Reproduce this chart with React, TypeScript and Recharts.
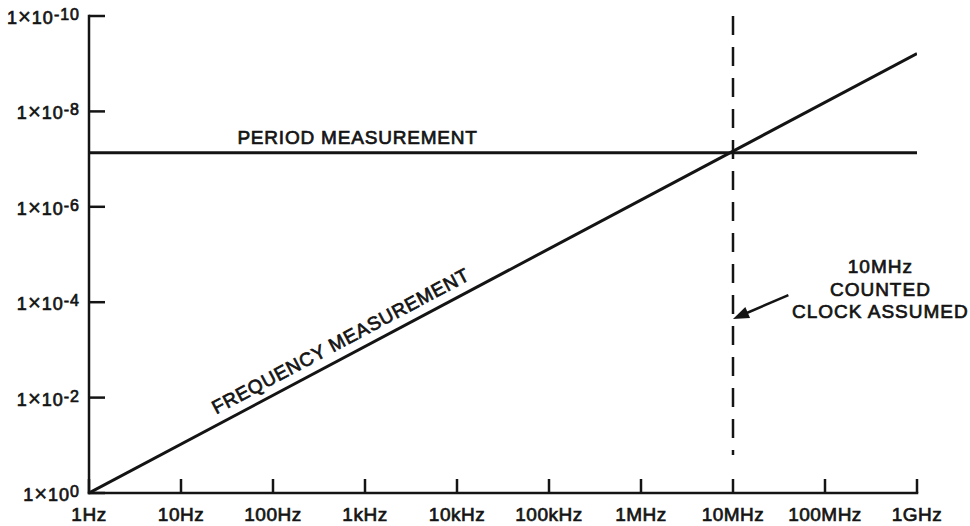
import React from 'react';
import { LineChart, Line, XAxis, YAxis, ReferenceLine, ReferenceDot } from 'recharts';

// ---- data ----
const frequencyHz = [1, 1e9];
const frequencyError = [1, 6.1e-10];
const periodError = [7.35e-8, 7.35e-8];

const xTicks = [1, 10, 100, 1e3, 1e4, 1e5, 1e6, 1e7, 1e8, 1e9];
const xTickLabels = ['1Hz', '10Hz', '100Hz', '1kHz', '10kHz', '100kHz', '1MHz', '10MHz', '100MHz', '1GHz'];
const yTicks = [1, 1e-2, 1e-4, 1e-6, 1e-8, 1e-10];
const yTickExponents = ['0', '-2', '-4', '-6', '-8', '-10'];

// annotation anchors (data coordinates)
const clockHz = 1e7;
const clockDashRange = [1e-10, 0.16];
const arrowTail = { x: 4e7, y: 7.1e-5 };
const arrowHead = { x: 1e7, y: 2.24e-4 };
const periodLabelAt = { x: 830, y: 7.35e-8 };
const freqLabelAt = { x: 660, y: 1.32e-3 };
const clockNoteAt = { x: 4e8, y: 7.4e-5 };
const clockNoteLines = ['10MHz', 'COUNTED', 'CLOCK ASSUMED'];
const periodLabel = 'PERIOD MEASUREMENT';
const freqLabel = 'FREQUENCY MEASUREMENT';

const data = frequencyHz.map((f, i) => ({ f, freq: frequencyError[i], period: periodError[i] }));

const INK = '#141414';
const FONT = '"Liberation Sans", Arial, Helvetica, sans-serif';
const textStyle = { fontFamily: FONT, fill: INK, stroke: INK, strokeWidth: 0.7 } as const;

const YTick = (props: any) => {
  const { x, y, payload } = props;
  const i = yTicks.indexOf(payload.value);
  const exp = i >= 0 ? yTickExponents[i] : String(Math.round(Math.log10(payload.value)));
  return (
    <g>
      <line x1={x} y1={y} x2={x + 16} y2={y} stroke={INK} strokeWidth={2.5} />
      <text x={x - 9} y={y + 8} textAnchor="end" fontSize={18} letterSpacing={1} {...textStyle}>
        1<tspan fontSize={22} strokeWidth={0.5}>×</tspan>10<tspan dy={-4} fontSize={16}>{exp}</tspan>
      </text>
    </g>
  );
};

const XTick = (props: any) => {
  const { x, y, payload } = props;
  const i = xTicks.indexOf(payload.value);
  const label = i >= 0 ? xTickLabels[i] : String(payload.value);
  return (
    <g>
      <line x1={x} y1={y} x2={x} y2={y - 14} stroke={INK} strokeWidth={2.5} />
      <text x={x} y={y + 28} textAnchor="middle" fontSize={19} letterSpacing={0.5} {...textStyle}>
        {label}
      </text>
    </g>
  );
};

const ArrowShape = (p: any) => {
  const { x1, y1, x2, y2 } = p;
  const dx = x2 - x1;
  const dy = y2 - y1;
  const len = Math.sqrt(dx * dx + dy * dy) || 1;
  const ux = dx / len;
  const uy = dy / len;
  const nx = -uy;
  const ny = ux;
  const hl = 16;
  const hw = 6;
  const bx = x2 - ux * hl;
  const by = y2 - uy * hl;
  return (
    <g>
      <line x1={x1} y1={y1} x2={x2 - ux * 8} y2={y2 - uy * 8} stroke={INK} strokeWidth={2.5} />
      <polygon points={`${x2},${y2} ${bx + nx * hw},${by + ny * hw} ${bx - nx * hw},${by - ny * hw}`} fill={INK} />
    </g>
  );
};

export default function App() {
  return (
    <div style={{ position: 'absolute', left: 0, top: 0, width: 970, height: 526, background: '#fff' }}>
      <LineChart width={970} height={526} data={data} margin={{ top: 16, right: 53, bottom: 0, left: 0 }}>
        <XAxis
          dataKey="f"
          type="number"
          scale="log"
          domain={[1, 1e9]}
          ticks={xTicks}
          allowDataOverflow
          interval={0}
          height={33}
          tickSize={0}
          tickMargin={0}
          tickLine={false}
          axisLine={{ stroke: INK, strokeWidth: 2.5, strokeLinecap: 'square' }}
          tick={<XTick />}
        />
        <YAxis
          type="number"
          scale="log"
          domain={[1e-10, 1]}
          reversed
          ticks={yTicks}
          allowDataOverflow
          interval={0}
          width={89}
          tickSize={0}
          tickMargin={0}
          tickLine={false}
          axisLine={{ stroke: INK, strokeWidth: 2.5, strokeLinecap: 'square' }}
          tick={<YTick />}
        />
        <ReferenceLine
          segment={[{ x: clockHz, y: clockDashRange[0] }, { x: clockHz, y: clockDashRange[1] }]}
          stroke={INK}
          strokeWidth={2.5}
          strokeDasharray="19 12"
        />
        <Line type="linear" dataKey="period" stroke={INK} strokeWidth={3} dot={false} isAnimationActive={false} />
        <Line type="linear" dataKey="freq" stroke={INK} strokeWidth={3} dot={false} isAnimationActive={false} />
        <ReferenceLine
          segment={[{ x: arrowTail.x, y: arrowTail.y }, { x: arrowHead.x, y: arrowHead.y }]}
          shape={ArrowShape}
        />
        <ReferenceDot
          x={periodLabelAt.x}
          y={periodLabelAt.y}
          r={2}
          shape={(p: any) => (
            <text x={p.cx} y={p.cy - 9} textAnchor="middle" fontSize={19} letterSpacing={0.8} {...textStyle}>
              {periodLabel}
            </text>
          )}
        />
        <ReferenceDot
          x={freqLabelAt.x}
          y={freqLabelAt.y}
          r={2}
          shape={(p: any) => (
            <text
              transform={`translate(${p.cx},${p.cy}) rotate(-28)`}
              x={0}
              y={-10}
              textAnchor="middle"
              fontSize={19}
              letterSpacing={0.8}
              {...textStyle}
            >
              {freqLabel}
            </text>
          )}
        />
        <ReferenceDot
          x={clockNoteAt.x}
          y={clockNoteAt.y}
          r={2}
          shape={(p: any) => (
            <g>
              {clockNoteLines.map((t, i) => (
                <text
                  key={t}
                  x={p.cx}
                  y={p.cy + (i - 1) * 22.5}
                  textAnchor="middle"
                  fontSize={19}
                  letterSpacing={1}
                  {...textStyle}
                >
                  {t}
                </text>
              ))}
            </g>
          )}
        />
      </LineChart>
    </div>
  );
}
